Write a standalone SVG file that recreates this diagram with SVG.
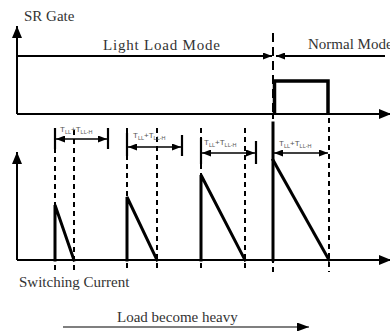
<svg xmlns="http://www.w3.org/2000/svg" width="390" height="331" viewBox="0 0 390 331">
<defs>
<style>
.ax{stroke:#000;stroke-width:2;fill:none}
.th{stroke:#000;stroke-width:3;fill:none;stroke-linecap:square}
.ds{stroke:#000;stroke-width:2;fill:none;stroke-dasharray:5,4}
.br{stroke:#000;stroke-width:1.5;fill:none}
.bar{stroke:#000;stroke-width:2.2;fill:none}
.t{font-size:15px;fill:#333}
.lbl{font-size:8px;fill:#555}
.sub{font-size:5.5px}
</style>
<marker id="big" markerUnits="userSpaceOnUse" markerWidth="12" markerHeight="10" refX="12" refY="5" orient="auto"><path d="M0,0L12,5L0,10z" fill="#000"/></marker>
<marker id="sm" markerUnits="userSpaceOnUse" markerWidth="9" markerHeight="7" refX="9" refY="3.5" orient="auto-start-reverse"><path d="M0,0L9,3.5L0,7z" fill="#000"/></marker>
<marker id="gr" markerUnits="userSpaceOnUse" markerWidth="12" markerHeight="9" refX="12" refY="4.5" orient="auto"><path d="M0,0L12,4.5L0,9z" fill="#000"/></marker>
</defs>

<g id="texts" font-family="'Liberation Serif', 'DejaVu Serif', serif">
<text class="t" x="24" y="21">SR Gate</text>
<text class="t" x="103" y="50" textLength="117">Light Load Mode</text>
<text class="t" x="308" y="49">Normal Mode</text>
<text class="t" x="19" y="287">Switching Current</text>
<text class="t" x="117" y="322">Load become heavy</text>
</g>

<g id="connectors">
<line class="ax" x1="17" y1="114" x2="17" y2="26" marker-end="url(#big)"/>
<line class="ax" x1="17" y1="114" x2="391" y2="114" marker-end="url(#big)"/>
<line class="ax" x1="17" y1="56" x2="272" y2="56" marker-end="url(#sm)"/>
<line class="ax" x1="385" y1="56" x2="276" y2="56" marker-end="url(#sm)"/>
<line class="ds" x1="273" y1="33" x2="273" y2="114" style="stroke-dasharray:9,5"/>
<path d="M274.5,114V81H328V114" style="stroke:#000;stroke-width:3.5;fill:none"/>

<line class="ax" x1="17" y1="260" x2="17" y2="152" marker-end="url(#big)"/>
<line class="ax" x1="17" y1="260" x2="391" y2="260" marker-end="url(#big)"/>

<line class="ds" x1="55" y1="130" x2="55" y2="272"/>
<line class="ds" x1="74" y1="130" x2="74" y2="272"/>
<line class="ds" x1="127" y1="128" x2="127" y2="272"/>
<line class="ds" x1="157" y1="128" x2="157" y2="272"/>
<line class="ds" x1="201" y1="128" x2="201" y2="272"/>
<line class="ds" x1="245" y1="128" x2="245" y2="272"/>
<line class="ds" x1="273" y1="114" x2="273" y2="272"/>
<line class="ds" x1="329" y1="118" x2="329" y2="272"/>

<path class="th" d="M55,260V205L74,260"/>
<path class="th" d="M127,260V197L157,260"/>
<path class="th" d="M201,260V175L245,260"/>
<path class="th" d="M273,260V123"/>
<path class="th" d="M273,160L329,260"/>

<line class="bar" x1="55" y1="128" x2="55" y2="149"/>
<line class="bar" x1="108" y1="128" x2="108" y2="149"/>
<line class="br" x1="56" y1="139" x2="107" y2="139" marker-start="url(#sm)" marker-end="url(#sm)"/>

<line class="bar" x1="127" y1="133" x2="127" y2="156"/>
<line class="bar" x1="182" y1="135" x2="182" y2="156"/>
<line class="br" x1="128" y1="147" x2="181" y2="147" marker-start="url(#sm)" marker-end="url(#sm)"/>

<line class="bar" x1="201" y1="138" x2="201" y2="164"/>
<line class="bar" x1="256" y1="141" x2="256" y2="164"/>
<line class="br" x1="202" y1="153" x2="255" y2="153" marker-start="url(#sm)" marker-end="url(#sm)"/>

<line class="br" x1="274" y1="153" x2="328" y2="153" marker-start="url(#sm)" marker-end="url(#sm)"/>

<line x1="63" y1="327" x2="309" y2="327" style="stroke:#555;stroke-width:1.5" marker-end="url(#gr)"/>
</g>

<g id="labels" font-family="'Liberation Sans', Arial, sans-serif">
<text class="lbl" x="60" y="132">T<tspan class="sub" dy="1.5">LL</tspan><tspan dy="-1.5">+T</tspan><tspan class="sub" dy="1.5">LL-H</tspan></text>
<text class="lbl" x="133" y="138">T<tspan class="sub" dy="1.5">LL</tspan><tspan dy="-1.5">+T</tspan><tspan class="sub" dy="1.5">LL-H</tspan></text>
<text class="lbl" x="204" y="145">T<tspan class="sub" dy="1.5">LL</tspan><tspan dy="-1.5">+T</tspan><tspan class="sub" dy="1.5">LL-H</tspan></text>
<text class="lbl" x="279" y="146">T<tspan class="sub" dy="1.5">LL</tspan><tspan dy="-1.5">+T</tspan><tspan class="sub" dy="1.5">LL-H</tspan></text>
</g>
</svg>
